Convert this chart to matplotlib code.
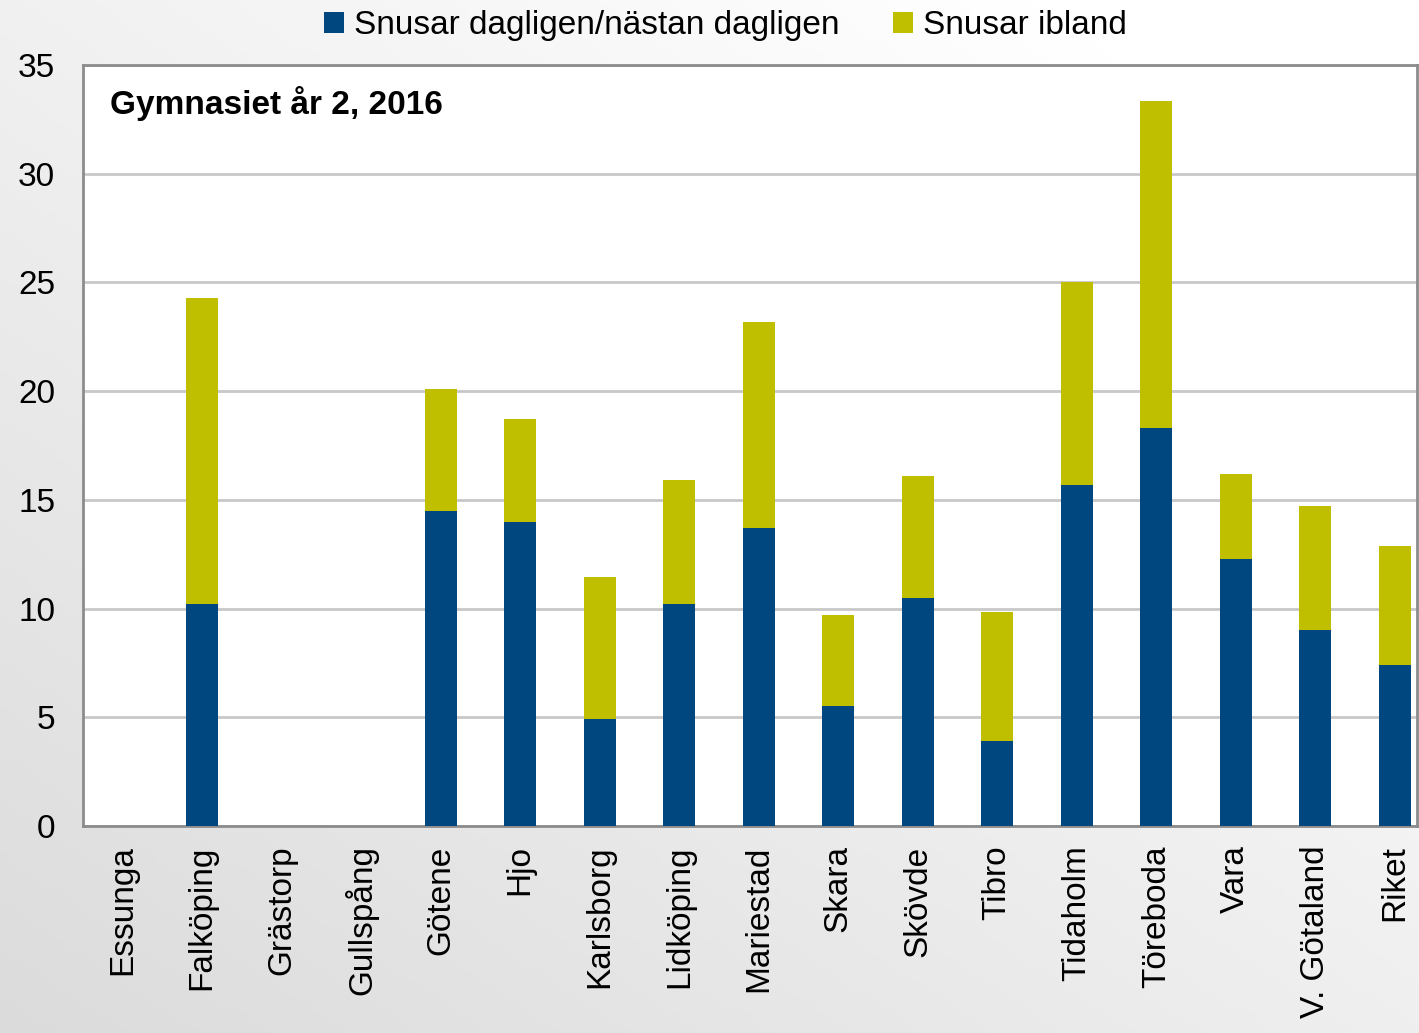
import numpy as np
import matplotlib.pyplot as plt

plt.rcParams['font.family'] = ['Liberation Sans', 'DejaVu Sans']

kommuner = ['Essunga', 'Falköping', 'Grästorp', 'Gullspång', 'Götene', 'Hjo',
            'Karlsborg', 'Lidköping', 'Mariestad', 'Skara', 'Skövde', 'Tibro',
            'Tidaholm', 'Töreboda', 'Vara', 'V. Götaland', 'Riket']
dagligen = [0, 10.2, 0, 0, 14.5, 14.0, 4.9, 10.2, 13.7, 5.5, 10.5, 3.9,
            15.7, 18.3, 12.3, 9.0, 7.4]
ibland = [0, 14.1, 0, 0, 5.6, 4.7, 6.55, 5.7, 9.5, 4.2, 5.6, 5.95,
          9.3, 15.05, 3.9, 5.7, 5.5]

blue = '#00467f'
yellow = '#bfbf00'

fig = plt.figure(figsize=(14.19, 10.33), dpi=100)

# gradient background
bg = fig.add_axes([0, 0, 1, 1], zorder=-10)
xx, yy = np.meshgrid(np.linspace(0, 1, 200), np.linspace(0, 1, 200))
shade = 0.86 + 0.14 * np.clip(0.55 * xx + 0.6 * yy, 0, 1)
bg.imshow(np.dstack([shade, shade, shade]), extent=[0, 1, 0, 1], aspect='auto', origin='lower')
bg.axis('off')

ax = fig.add_axes([83 / 1419, 1 - 826 / 1033, (1417 - 83) / 1419, (826 - 65) / 1033])
ax.set_facecolor('white')
x = np.arange(len(kommuner))
ax.bar(x, dagligen, width=0.4, color=blue, label='Snusar dagligen/nästan dagligen', zorder=3)
ax.bar(x, ibland, width=0.4, bottom=dagligen, color=yellow, label='Snusar ibland', zorder=3)

ax.set_ylim(0, 35)
ax.set_xlim(-0.5, -0.5 + (1417 - 83) / 79.5)
ax.set_yticks(range(0, 36, 5))
ax.set_xticks(x)
ax.set_xticklabels(kommuner, rotation=90, fontsize=24)
ax.tick_params(axis='y', labelsize=24, length=0, pad=20)
ax.tick_params(axis='x', length=0, pad=14)
ax.yaxis.grid(True, color='#c8c8c8', linewidth=2, zorder=0)
ax.set_axisbelow(True)
for s in ax.spines.values():
    s.set_color('#8c8c8c')
    s.set_linewidth(2)

ax.text(0.02, 0.95, 'Gymnasiet år 2, 2016', transform=ax.transAxes, fontsize=24,
        fontweight='bold', va='center')

fig.legend(loc='center', bbox_to_anchor=(0.511, 0.975), ncol=2, frameon=False,
           fontsize=24, handlelength=0.6, handleheight=0.6, handletextpad=0.3,
           columnspacing=1.6)

fig.savefig('out.png', dpi=100)
